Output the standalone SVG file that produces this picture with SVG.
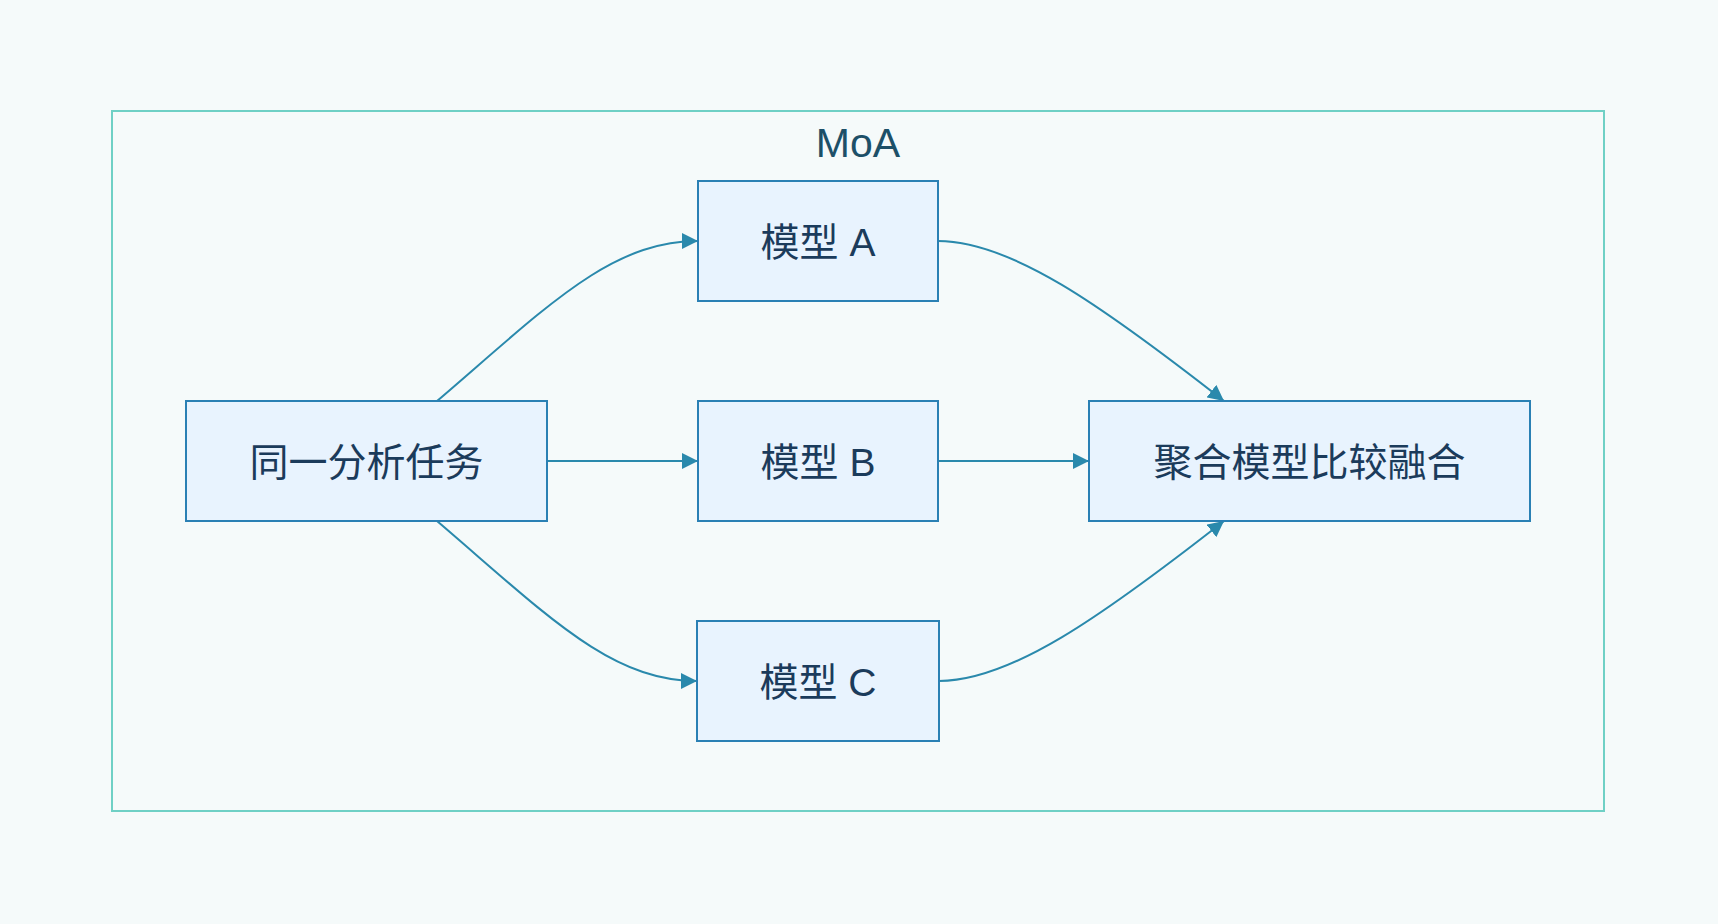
<svg xmlns="http://www.w3.org/2000/svg" width="1718" height="924" viewBox="0 0 1718 924">
  <style>
    .node rect { fill: #e8f3fe; stroke: #2a80b4; stroke-width: 2; }
    .node text { font-family: "Liberation Sans", "Noto Sans CJK SC", sans-serif; font-size: 39px; fill: #1b3b5b; text-anchor: middle; }
    .edge { fill: none; stroke: #2a89ac; stroke-width: 2; marker-end: url(#arrow); }
    .title { font-family: "Liberation Sans", "Noto Sans CJK SC", sans-serif; font-size: 41px; fill: #1d5068; text-anchor: middle; }
  </style>
  <defs>
    <marker id="arrow" viewBox="0 0 10 10" refX="10" refY="5" markerWidth="16" markerHeight="16" markerUnits="userSpaceOnUse" orient="auto">
      <path d="M0,0 L10,5 L0,10 z" fill="#2a89ac"/>
    </marker>
  </defs>
  <rect x="0" y="0" width="1718" height="924" fill="#f5fafa"/>
  <g id="cluster-moa">
    <rect x="112" y="111" width="1492" height="700" fill="#f5fafa" stroke="#6fd0c5" stroke-width="2"/>
    <text class="title" x="858" y="156.5">MoA</text>
  </g>
  <g id="connectors">
    <path class="edge" d="M437,401 C547,307 610,241 698,241"/>
    <path class="edge" d="M547,461 L698,461"/>
    <path class="edge" d="M437,521 C547,615 610,681 697,681"/>
    <path class="edge" d="M938,241 C1010,241 1100,304 1224,401"/>
    <path class="edge" d="M938,461 L1089,461"/>
    <path class="edge" d="M939,681 C1010,681 1100,618 1224,521"/>
  </g>
  <g id="node-task" class="node">
    <rect x="186" y="401" width="361" height="120"/>
    <text x="366.5" y="476">同一分析任务</text>
  </g>
  <g id="node-a" class="node">
    <rect x="698" y="181" width="240" height="120"/>
    <text x="818" y="256">模型 A</text>
  </g>
  <g id="node-b" class="node">
    <rect x="698" y="401" width="240" height="120"/>
    <text x="818" y="476">模型 B</text>
  </g>
  <g id="node-c" class="node">
    <rect x="697" y="621" width="242" height="120"/>
    <text x="818" y="696">模型 C</text>
  </g>
  <g id="node-agg" class="node">
    <rect x="1089" y="401" width="441" height="120"/>
    <text x="1309.5" y="476">聚合模型比较融合</text>
  </g>
</svg>
